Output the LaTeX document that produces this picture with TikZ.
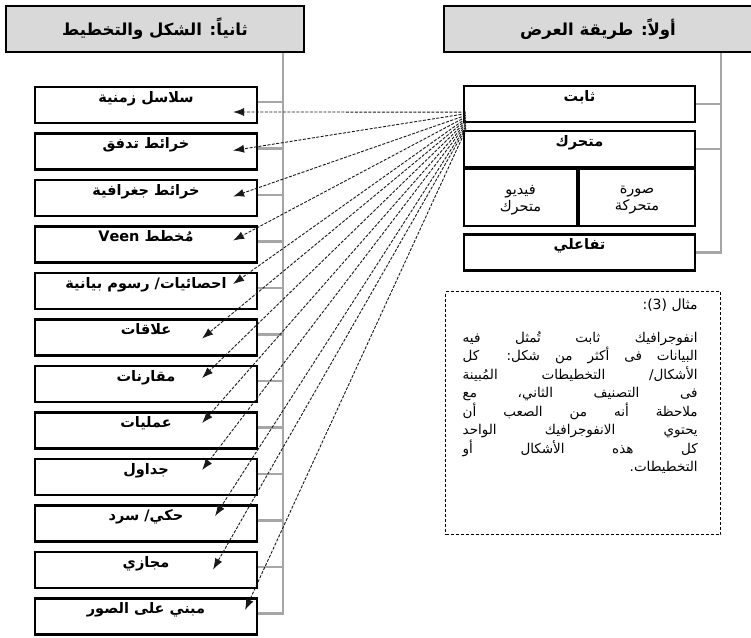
\documentclass[tikz,border=0pt]{standalone}
\usepackage{fontspec}
\usetikzlibrary{arrows.meta,calc,positioning}
\newfontfamily\arabicfont[Script=Arabic]{DejaVu Sans}
\TeXXeTstate=1

\begin{document}
\begin{tikzpicture}[x=1pt,y=-1pt,
    >={Latex[length=11pt,width=8pt]},node distance=8.3pt,
    head/.style={draw,line width=2pt,fill=gray!30,minimum height=46pt,font=\arabicfont\bfseries\fontsize{16.5}{18}\selectfont},
    box/.style={draw,line width=2.2pt,minimum width=222pt,minimum height=36pt,inner sep=0pt},
    boxtext/.style={anchor=north,yshift=-2pt,font=\arabicfont\bfseries\fontsize{14.5}{16}\selectfont},
    subtext/.style={align=center,yshift=-3pt,font=\arabicfont\fontsize{14.5}{17}\selectfont},
    branch/.style={draw=gray!70,line width=2.4pt},
    link/.style={->,dash pattern=on 3pt off 1.5pt,line width=0.9pt,draw=black!90}]
    \useasboundingbox (0,0) rectangle (751,637);

    % headers
    \node[head,minimum width=298pt] (H2) at (155,29) {\beginR ثانياً: الشكل والتخطيط\endR};
    \node[head,minimum width=308pt] (H1) at (598,29) {\beginR أولاً: طريقة العرض\endR};

    % second classification: shape and layout
    \node[box,label={[boxtext]north:\beginR سلاسل زمنية\endR}] (S1) at (146,105) {};
    \node[box,label={[boxtext]north:\beginR خرائط تدفق\endR}] (S2) [below=of S1] {};
    \node[box,label={[boxtext]north:\beginR خرائط جغرافية\endR}] (S3) [below=of S2] {};
    \node[box,label={[boxtext]north:\beginR مُخطط \beginL Veen\endL\endR}] (S4) [below=of S3] {};
    \node[box,label={[boxtext]north:\beginR احصائيات/ رسوم بيانية\endR}] (S5) [below=of S4] {};
    \node[box,label={[boxtext]north:\beginR علاقات\endR}] (S6) [below=of S5] {};
    \node[box,label={[boxtext]north:\beginR مقارنات\endR}] (S7) [below=of S6] {};
    \node[box,label={[boxtext]north:\beginR عمليات\endR}] (S8) [below=of S7] {};
    \node[box,label={[boxtext]north:\beginR جداول\endR}] (S9) [below=of S8] {};
    \node[box,label={[boxtext]north:\beginR حكي/ سرد\endR}] (S10) [below=of S9] {};
    \node[box,label={[boxtext]north:\beginR مجازي\endR}] (S11) [below=of S10] {};
    \node[box,label={[boxtext]north:\beginR مبني على الصور\endR}] (S12) [below=of S11] {};

    % first classification: display method
    \node[box,minimum width=231pt,label={[boxtext]north:\beginR ثابت\endR}] (R1) at (579.5,104) {};
    \node[box,minimum width=231pt,label={[boxtext]north:\beginR متحرك\endR}] (R2) [below=6.5pt of R1] {};
    \node[box,minimum width=113pt,minimum height=57pt,label={[subtext]center:\beginR فيديو\endR\\\beginR متحرك\endR}] (R3) at (520.5,197.5) {};
    \node[box,minimum width=116pt,minimum height=57pt,label={[subtext]center:\beginR صورة\endR\\\beginR متحركة\endR}] (R4) at (637,197.5) {};
    \node[box,minimum width=231pt,label={[boxtext]north:\beginR تفاعلي\endR}] (R5) at (579.5,252.5) {};

    % example
    \node[draw,densely dashed,line width=0.8pt,minimum width=275pt,minimum height=243pt] (E1) at (583,413) {};
    \node[anchor=north east,inner sep=0pt,font=\arabicfont\fontsize{14}{16}\selectfont] (E2) at ($(E1.north east)+(-23,8)$) {\beginR مثال (3)\kern0pt:\endR};
    \node[anchor=north east,inner sep=0pt,text width=235pt,align=justify,
        font=\arabicfont\fontsize{13.5}{18.5}\selectfont] (E3) at ($(E1.north east)+(-23,40)$)
        {\parfillskip=0pt \beginR انفوجرافيك ثابت تُمثل فيه\linebreak
        البيانات فى أكثر من شكل: كل\linebreak
        الأشكال/ التخطيطات المُبينة\linebreak
        فى التصنيف الثاني، مع\linebreak
        ملاحظة أنه من الصعب أن\linebreak
        يحتوي الانفوجرافيك الواحد\linebreak
        كل هذه الأشكال أو\linebreak
        التخطيطات.\hfill\endR\par};

    % tree lines
    \coordinate (TL) at (283,0);
    \coordinate (TR) at (721,0);
    \draw[branch] (H2.south -| TL) |- ([yshift=3pt]S12.east);
    \draw[branch] ([yshift=3pt]S1.east) -- ([yshift=3pt]S1.east -| TL);
    \draw[branch] ([yshift=3pt]S2.east) -- ([yshift=3pt]S2.east -| TL);
    \draw[branch] ([yshift=3pt]S3.east) -- ([yshift=3pt]S3.east -| TL);
    \draw[branch] ([yshift=3pt]S4.east) -- ([yshift=3pt]S4.east -| TL);
    \draw[branch] ([yshift=3pt]S5.east) -- ([yshift=3pt]S5.east -| TL);
    \draw[branch] ([yshift=3pt]S6.east) -- ([yshift=3pt]S6.east -| TL);
    \draw[branch] ([yshift=3pt]S7.east) -- ([yshift=3pt]S7.east -| TL);
    \draw[branch] ([yshift=3pt]S8.east) -- ([yshift=3pt]S8.east -| TL);
    \draw[branch] ([yshift=3pt]S9.east) -- ([yshift=3pt]S9.east -| TL);
    \draw[branch] ([yshift=3pt]S10.east) -- ([yshift=3pt]S10.east -| TL);
    \draw[branch] ([yshift=3pt]S11.east) -- ([yshift=3pt]S11.east -| TL);
    \draw[branch] (H1.south -| TR) |- (R5.east);
    \draw[branch] (R1.east) -- (R1.east -| TR);
    \draw[branch] (R2.east) -- (R2.east -| TR);

    % links from static to every shape
    \draw[link] ($(R1.south west)+(3,-11)$) -- ($(S1.east)+(-25,7)$);
    \draw[link] ($(R1.south west)+(3,-9.4)$) -- ($(S2.east)+(-25,-1)$);
    \draw[link] ($(R1.south west)+(3,-7.8)$) -- ($(S3.east)+(-25,-1.5)$);
    \draw[link] ($(R1.south west)+(3,-6.2)$) -- ($(S4.east)+(-25,-4)$);
    \draw[link] ($(R1.south west)+(3,-4.6)$) -- ($(S5.east)+(-25,-7)$);
    \draw[link] ($(R1.south west)+(3,-3)$) -- ($(S6.east)+(-56,1)$);
    \draw[link] ($(R1.south west)+(3,-1.4)$) -- ($(S7.east)+(-56,-6)$);
    \draw[link] ($(R1.south west)+(3,0.2)$) -- ($(S8.east)+(-56,-7.5)$);
    \draw[link] ($(R1.south west)+(3,1.8)$) -- ($(S9.east)+(-56,-7)$);
    \draw[link] ($(R1.south west)+(3,3.4)$) -- ($(S10.east)+(-43,-7.5)$);
    \draw[link] ($(R1.south west)+(3,5)$) -- ($(S11.east)+(-45,-0.5)$);
    \draw[link] ($(R1.south west)+(3,6.6)$) -- ($(S12.east)+(-13,-6.5)$);
\end{tikzpicture}
\end{document}
